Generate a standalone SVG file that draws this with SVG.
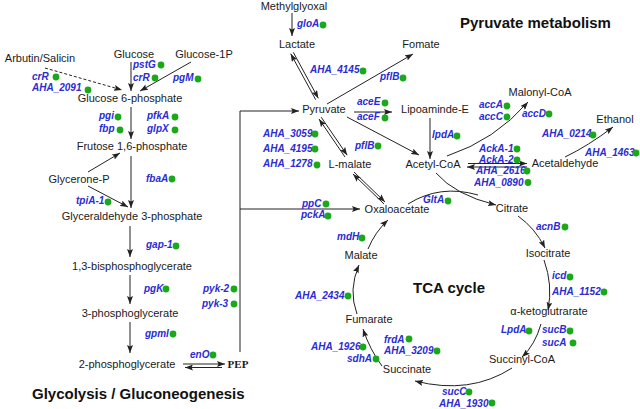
<svg xmlns="http://www.w3.org/2000/svg" width="640" height="409" viewBox="0 0 640 409">
<defs>
<marker id="ah" viewBox="0 0 8 6" refX="8" refY="3" markerWidth="8" markerHeight="6" markerUnits="userSpaceOnUse" orient="auto"><path d="M0,0 L8,3 L0,6 L1.5,3 z" fill="#222"/></marker>
<style>
.m{font-family:"Liberation Sans",Arial,sans-serif;font-size:11px;fill:#1a1a1a;text-anchor:middle}
.p{font-family:"Liberation Serif","Times New Roman",serif;font-size:11px;font-weight:bold;fill:#1a1a1a;text-anchor:middle}
.e{font-family:"Liberation Sans",Arial,sans-serif;font-size:10px;font-weight:bold;font-style:italic;fill:#2b2bd4}
.t{font-family:"Liberation Sans",Arial,sans-serif;font-size:15px;font-weight:bold;fill:#111}
.d{fill:#1ba81b}
.c{stroke:#222;stroke-width:1;fill:none;marker-end:url(#ah)}
.l{stroke:#222;stroke-width:1;fill:none}
.dash{stroke-dasharray:3,2}
</style>
</defs>
<rect width="640" height="409" fill="#fff"/>

<g id="connectors">
<path class="c" d="M292,13 L292,36"/>
<path class="c dash" d="M45,68 L122,90"/>
<path class="c" d="M131,62 L131,91"/>
<path class="c" d="M191,62 L140,91"/>
<path class="c" d="M131,107 L131,139"/>
<path class="c" d="M88,172 L120,153"/>
<path class="c" d="M88,186 L128,207"/>
<path class="c" d="M131,156 L131,208"/>
<path class="c" d="M130,226 L130,257"/>
<path class="c" d="M130,275 L130,304"/>
<path class="c" d="M130,322 L130,353"/>
<path class="c" d="M183,364 L225,364"/>
<path class="c" d="M222,367.5 L185,367.5"/>
<path class="c" d="M240,352 L240,111 L299,111"/>
<path class="c" d="M240,209 L360,209"/>
<path class="c" d="M315.7,99.7 L290.7,53.7"/>
<path class="c" d="M293.3,52.3 L318.3,98.3"/>
<path class="c" d="M345,157 L319,119"/>
<path class="c" d="M321.2,117.2 L347.2,155.2"/>
<path class="c" d="M384,204 L353,174"/>
<path class="c" d="M354,172 L385,202"/>
<path class="c" d="M327,104 L413,54"/>
<path class="c" d="M354,112 L392,112"/>
<path class="c" d="M430,118 L430,159"/>
<path class="c" d="M347,117 L419,155"/>
<path class="c" d="M447,156 Q495,140 528,102"/>
<path class="c" d="M468,163.5 L527,163.5"/>
<path class="c" d="M527,167 L467,167"/>
<path class="c" d="M565,157 Q588,146 613,127"/>
<path class="c" d="M436,173 Q455,195 496,205"/>
<path class="l" d="M408,204 Q440,184 478,195"/>
<path class="c" d="M518,216 Q535,228 545,248"/>
<path class="c" d="M544,260 Q553,285 548,310"/>
<path class="c" d="M541,324 Q535,345 522,357"/>
<path class="c" d="M512,368 Q470,395 415,381"/>
<path class="c" d="M382,366 Q370,350 363,329"/>
<path class="c" d="M357,314 Q348,290 359,265"/>
<path class="c" d="M368,249 Q375,232 388,220"/>
</g>

<g id="n-methylglyoxal"><text class="m" x="294" y="10">Methylglyoxal</text></g>
<g id="n-lactate"><text class="m" x="297" y="48">Lactate</text></g>
<g id="n-glucose"><text class="m" x="134" y="58">Glucose</text></g>
<g id="n-glucose1p"><text class="m" x="204" y="58">Glucose-1P</text></g>
<g id="n-arbutin"><text class="m" x="40" y="62">Arbutin/Salicin</text></g>
<g id="n-g6p"><text class="m" x="130" y="102">Glucose 6-phosphate</text></g>
<g id="n-f16p"><text class="m" x="132" y="150">Frutose 1,6-phosphate</text></g>
<g id="n-glyceroneP"><text class="m" x="79" y="183">Glycerone-P</text></g>
<g id="n-g3p"><text class="m" x="132" y="220">Glyceraldehyde 3-phosphate</text></g>
<g id="n-bpg"><text class="m" x="132" y="270">1,3-bisphosphoglycerate</text></g>
<g id="n-3pg"><text class="m" x="130" y="317">3-phosphoglycerate</text></g>
<g id="n-2pg"><text class="m" x="127" y="368">2-phosphoglycerate</text></g>
<g id="n-pep"><text class="p" x="238" y="368">PEP</text></g>
<g id="n-pyruvate"><text class="m" x="324" y="113">Pyruvate</text></g>
<g id="n-fomate"><text class="m" x="421" y="48">Fomate</text></g>
<g id="n-lipoaminde"><text class="m" x="435" y="113">Lipoaminde-E</text></g>
<g id="n-malonylcoa"><text class="m" x="540" y="96">Malonyl-CoA</text></g>
<g id="n-ethanol"><text class="m" x="615" y="123">Ethanol</text></g>
<g id="n-acetylcoa"><text class="m" x="433" y="168">Acetyl-CoA</text></g>
<g id="n-acetaldehyde"><text class="m" x="565" y="167">Acetaldehyde</text></g>
<g id="n-lmalate"><text class="m" x="350" y="168">L-malate</text></g>
<g id="n-oxaloacetate"><text class="m" x="397" y="213">Oxaloacetate</text></g>
<g id="n-citrate"><text class="m" x="512" y="212">Citrate</text></g>
<g id="n-isocitrate"><text class="m" x="548" y="257">Isocitrate</text></g>
<g id="n-akg"><text class="m" x="549" y="315">α-ketoglutrarate</text></g>
<g id="n-succinylcoa"><text class="m" x="522" y="363">Succinyl-CoA</text></g>
<g id="n-succinate"><text class="m" x="407" y="373">Succinate</text></g>
<g id="n-fumarate"><text class="m" x="369" y="323">Fumarate</text></g>
<g id="n-malate"><text class="m" x="361" y="259">Malate</text></g>

<g id="titles">
<text class="t" x="460" y="28">Pyruvate metabolism</text>
<text class="t" x="413" y="293">TCA cycle</text>
<text class="t" x="32" y="399">Glycolysis / Gluconeogenesis</text>
</g>

<g id="enzymes">
<text class="e" x="297" y="27">gloA</text><circle class="d" cx="323" cy="25" r="3.4"/>
<text class="e" x="32" y="80">crR</text><circle class="d" cx="56" cy="77" r="3.4"/>
<text class="e" x="32" y="91">AHA_2091</text><circle class="d" cx="88" cy="90" r="3.4"/>
<text class="e" x="133" y="68">pstG</text><circle class="d" cx="161" cy="65" r="3.4"/>
<text class="e" x="133" y="81">crR</text><circle class="d" cx="155" cy="78" r="3.4"/>
<text class="e" x="173" y="81">pgM</text><circle class="d" cx="198" cy="79" r="3.4"/>
<text class="e" x="99" y="119">pgi</text><circle class="d" cx="118" cy="117" r="3.4"/>
<text class="e" x="99" y="132">fbp</text><circle class="d" cx="120" cy="130" r="3.4"/>
<text class="e" x="147" y="119">pfkA</text><circle class="d" cx="175" cy="117" r="3.4"/>
<text class="e" x="147" y="132">glpX</text><circle class="d" cx="175" cy="130" r="3.4"/>
<text class="e" x="146" y="182">fbaA</text><circle class="d" cx="172" cy="179" r="3.4"/>
<text class="e" x="76" y="204">tpiA-1</text><circle class="d" cx="108" cy="202" r="3.4"/>
<text class="e" x="146" y="248">gap-1</text><circle class="d" cx="176" cy="246" r="3.4"/>
<text class="e" x="144" y="292">pgK</text><circle class="d" cx="166" cy="289" r="3.4"/>
<text class="e" x="145" y="337">gpml</text><circle class="d" cx="173" cy="334" r="3.4"/>
<text class="e" x="190" y="358">enO</text><circle class="d" cx="213" cy="355" r="3.4"/>
<text class="e" x="203" y="292">pyk-2</text><circle class="d" cx="234" cy="289" r="3.4"/>
<text class="e" x="202" y="307">pyk-3</text><circle class="d" cx="234" cy="304" r="3.4"/>
<text class="e" x="310" y="73">AHA_4145</text><circle class="d" cx="363" cy="71" r="3.4"/>
<text class="e" x="380" y="80">pflB</text><circle class="d" cx="403" cy="78" r="3.4"/>
<text class="e" x="357" y="105">aceE</text><circle class="d" cx="385" cy="103" r="3.4"/>
<text class="e" x="357" y="120">aceF</text><circle class="d" cx="385" cy="118" r="3.4"/>
<text class="e" x="432" y="138">lpdA</text><circle class="d" cx="457" cy="136" r="3.4"/>
<text class="e" x="355" y="149">pflB</text><circle class="d" cx="378" cy="146" r="3.4"/>
<text class="e" x="263" y="137">AHA_3059</text><circle class="d" cx="315" cy="134" r="3.4"/>
<text class="e" x="263" y="152">AHA_4195</text><circle class="d" cx="315" cy="149" r="3.4"/>
<text class="e" x="263" y="167">AHA_1278</text><circle class="d" cx="317" cy="165" r="3.4"/>
<text class="e" x="302" y="207">ppC</text><circle class="d" cx="326" cy="204" r="3.4"/>
<text class="e" x="301" y="218">pckA</text><circle class="d" cx="328" cy="216" r="3.4"/>
<text class="e" x="423" y="203">GltA</text><circle class="d" cx="448" cy="201" r="3.4"/>
<text class="e" x="337" y="240">mdH</text><circle class="d" cx="362" cy="238" r="3.4"/>
<text class="e" x="479" y="108">accA</text><circle class="d" cx="507" cy="106" r="3.4"/>
<text class="e" x="479" y="120">accC</text><circle class="d" cx="507" cy="117" r="3.4"/>
<text class="e" x="522" y="117">accD</text><circle class="d" cx="549" cy="114" r="3.4"/>
<text class="e" x="542" y="137">AHA_0214</text><circle class="d" cx="593" cy="135" r="3.4"/>
<text class="e" x="585" y="156">AHA_1463</text><circle class="d" cx="636" cy="153" r="3.4"/>
<text class="e" x="479" y="152">AckA-1</text><circle class="d" cx="517" cy="149" r="3.4"/>
<text class="e" x="479" y="163">AckA-2</text><circle class="d" cx="517" cy="160" r="3.4"/>
<text class="e" x="476" y="174">AHA_2616</text><circle class="d" cx="527" cy="171" r="3.4"/>
<text class="e" x="474" y="185.5">AHA_0890</text><circle class="d" cx="528" cy="182.5" r="3.4"/>
<text class="e" x="536" y="230">acnB</text><circle class="d" cx="565" cy="227" r="3.4"/>
<text class="e" x="552" y="279">icd</text><circle class="d" cx="570" cy="277" r="3.4"/>
<text class="e" x="552" y="295">AHA_1152</text><circle class="d" cx="604" cy="292" r="3.4"/>
<text class="e" x="501" y="333">LpdA</text><circle class="d" cx="529" cy="331" r="3.4"/>
<text class="e" x="542" y="333">sucB</text><circle class="d" cx="570" cy="331" r="3.4"/>
<text class="e" x="542" y="346">sucA</text><circle class="d" cx="573" cy="343" r="3.4"/>
<text class="e" x="442" y="395">sucC</text><circle class="d" cx="469" cy="392" r="3.4"/>
<text class="e" x="439" y="407">AHA_1930</text><circle class="d" cx="492" cy="403" r="3.4"/>
<text class="e" x="384" y="343">frdA</text><circle class="d" cx="409" cy="339" r="3.4"/>
<text class="e" x="384" y="354">AHA_3209</text><circle class="d" cx="437" cy="351" r="3.4"/>
<text class="e" x="311" y="350">AHA_1926</text><circle class="d" cx="363" cy="347" r="3.4"/>
<text class="e" x="347" y="362">sdhA</text><circle class="d" cx="376" cy="359" r="3.4"/>
<text class="e" x="295" y="299">AHA_2434</text><circle class="d" cx="348" cy="296" r="3.4"/>
</g>
</svg>
